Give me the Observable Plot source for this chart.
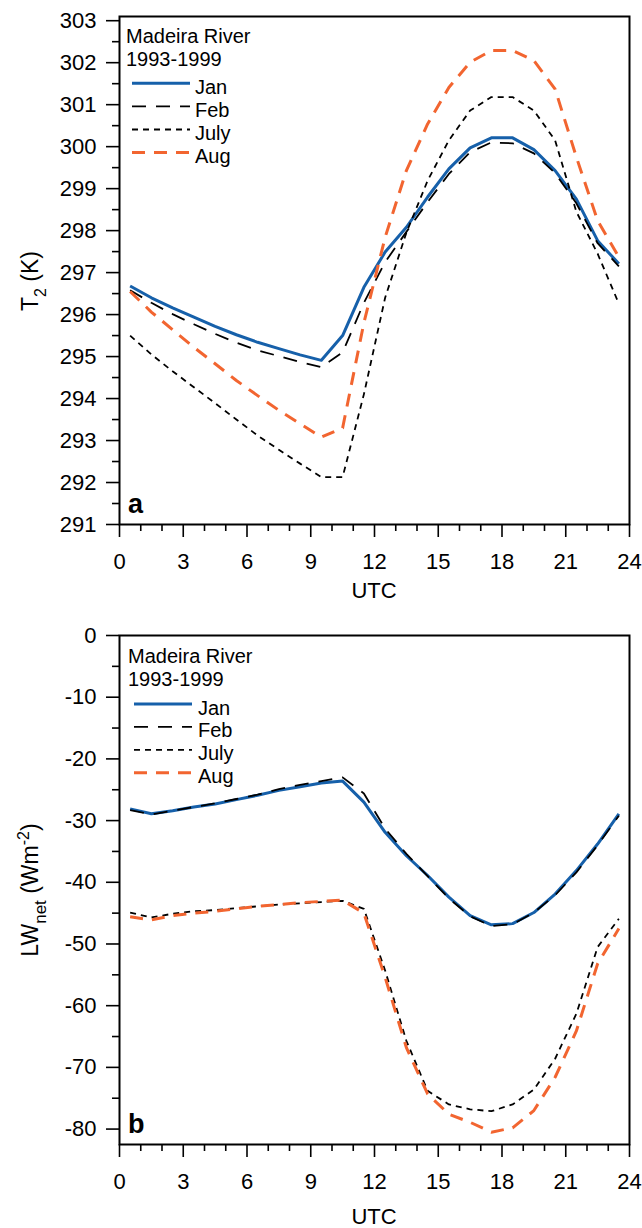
<!DOCTYPE html>
<html><head><meta charset="utf-8">
<script src="https://cdn.jsdelivr.net/npm/d3@7"></script>
<script src="https://cdn.jsdelivr.net/npm/@observablehq/plot@0.6"></script>
<style>
html,body{margin:0;padding:0;background:#fff;}
#chart svg{display:block;}
</style></head><body><div id="chart"></div>
<script>
// ---- data ----
const hours = [0.5,1.5,2.5,3.5,4.5,5.5,6.5,7.5,8.5,9.5,10.5,11.5,12.5,13.5,14.5,15.5,16.5,17.5,18.5,19.5,20.5,21.5,22.5,23.5];
const seriesNames = ["Jan","Feb","July","Aug"];

const t2Jan  = [296.68,296.40,296.16,295.94,295.72,295.52,295.34,295.19,295.04,294.91,295.50,296.65,297.49,298.08,298.80,299.47,299.97,300.21,300.21,299.93,299.43,298.75,297.76,297.21];
const t2Feb  = [296.58,296.28,296.01,295.77,295.54,295.33,295.15,295.01,294.87,294.75,295.10,296.28,297.25,297.97,298.68,299.35,299.87,300.10,300.08,299.84,299.37,298.65,297.70,297.15];
const t2July = [295.50,295.05,294.65,294.27,293.89,293.50,293.12,292.78,292.45,292.13,292.13,294.10,296.40,297.95,299.19,300.15,300.86,301.18,301.18,300.86,300.15,298.45,297.45,296.26];
const t2Aug  = [296.55,296.06,295.64,295.22,294.83,294.43,294.07,293.72,293.40,293.08,293.30,295.80,297.84,299.43,300.54,301.41,302.01,302.29,302.29,302.05,301.37,299.75,298.24,297.37];

const lwJan  = [-28.1,-28.9,-28.4,-27.8,-27.3,-26.6,-25.9,-25.1,-24.5,-23.9,-23.6,-27.0,-31.9,-35.7,-38.9,-42.4,-45.4,-46.9,-46.7,-44.9,-41.9,-38.1,-33.8,-28.9];
const lwFeb  = [-28.3,-29.0,-28.4,-27.8,-27.2,-26.5,-25.8,-24.9,-24.2,-23.6,-23.0,-25.6,-31.3,-35.4,-39.0,-42.6,-45.5,-47.1,-46.8,-44.9,-42.1,-38.4,-34.0,-29.2];
const lwJuly = [-44.9,-45.7,-45.1,-44.7,-44.5,-44.2,-43.9,-43.6,-43.4,-43.2,-43.0,-44.3,-54.3,-65.7,-73.8,-76.0,-76.8,-77.1,-76.0,-73.6,-68.6,-61.3,-50.5,-45.9];
const lwAug  = [-45.6,-46.1,-45.4,-45.0,-44.7,-44.3,-43.9,-43.6,-43.3,-43.1,-42.9,-45.0,-55.4,-66.8,-74.3,-77.6,-78.9,-80.5,-79.8,-77.0,-71.6,-64.1,-53.2,-47.5];

const xMajor = [0,3,6,9,12,15,18,21,24];
const xMinor = [1,2,4,5,7,8,10,11,13,14,16,17,19,20,22,23];
const t2Major = [291,292,293,294,295,296,297,298,299,300,301,302,303];
const t2Minor = [291.5,292.5,293.5,294.5,295.5,296.5,297.5,298.5,299.5,300.5,301.5,302.5];
const lwMajor = [-80,-70,-60,-50,-40,-30,-20,-10,0];
const lwMinor = [-75,-65,-55,-45,-35,-25,-15,-5];

const legendTitle = ["Madeira River","1993-1999"];
const xLabel = "UTC";

// ---- styles ----
const FONT = "'Liberation Sans', Arial, Helvetica, sans-serif";
const style = {
  Jan:  {stroke:"#1660aa", strokeWidth:3,   dash:null},
  Feb:  {stroke:"#000000", strokeWidth:1.8, dash:"14,10"},
  July: {stroke:"#000000", strokeWidth:1.8, dash:"6,5"},
  Aug:  {stroke:"#f26530", strokeWidth:3,   dash:"13,9"}
};

function panel(cfg) {
  const rows = (vals) => hours.map((h, i) => ({h, v: vals[i]}));
  const marks = [
    Plot.axisY(cfg.minorY, {tickSize:7, strokeWidth:1.6, tickFormat: () => "", label:null}),
    Plot.axisY(cfg.majorY, {tickSize:13, tickPadding:10, strokeWidth:1.6, fontSize:22, tickFormat: d => String(d), label:null}),
    Plot.axisX(xMinor, {tickSize:7, strokeWidth:1.6, tickFormat: () => "", label:null}),
    Plot.axisX(xMajor, {tickSize:13, tickPadding:16, strokeWidth:1.6, fontSize:22, tickFormat: d => String(d), label:null}),
    ...seriesNames.map(name => Plot.line(rows(cfg.series[name]), {
      x:"h", y:"v", stroke: style[name].stroke, strokeWidth: style[name].strokeWidth,
      strokeDasharray: style[name].dash, strokeLinejoin:"round", strokeLinecap:"butt"
    })),
    Plot.frame({stroke:"#000", strokeWidth:2})
  ];
  const svg = Plot.plot({
    width: 642, height: 614,
    marginLeft: 119, marginRight: 13, marginTop: cfg.marginTop, marginBottom: cfg.marginBottom,
    x: {domain:[0,24]},
    y: {domain: cfg.yDomain},
    style: {fontFamily: FONT, fontSize: "22px", background:"#fff", color:"#000"},
    marks
  });
  const s = d3.select(svg);
  // legend
  const g = s.append("g").attr("font-family", FONT).attr("font-size", 20).attr("fill", "#000")
    .attr("text-anchor", "start");
  g.append("text").attr("x", cfg.leg.tx).attr("y", cfg.leg.ty1).text(legendTitle[0]);
  g.append("text").attr("x", cfg.leg.tx).attr("y", cfg.leg.ty2).text(legendTitle[1]);
  seriesNames.forEach((name, i) => {
    const ly = cfg.leg.ly0 + i * cfg.leg.dy;
    g.append("line").attr("x1", cfg.leg.lx1).attr("x2", cfg.leg.lx2).attr("y1", ly).attr("y2", ly)
      .attr("stroke", style[name].stroke).attr("stroke-width", style[name].strokeWidth)
      .attr("stroke-dasharray", style[name].dash);
    g.append("text").attr("x", cfg.leg.textX).attr("y", ly + 10.5).text(name);
  });
  // panel letter
  s.append("text").attr("x", 128).attr("y", cfg.letterY).attr("font-family", FONT)
    .attr("text-anchor", "start").attr("font-size", 27).attr("font-weight", "bold").text(cfg.letter);
  // x label
  s.append("text").attr("x", 374).attr("y", cfg.xLabelY).attr("text-anchor", "middle")
    .attr("font-family", FONT).attr("font-size", 22).text(xLabel);
  // y label with sub/superscripts
  const yl = s.append("text").attr("transform", `translate(38,${cfg.yLabelY}) rotate(-90)`)
    .attr("text-anchor", "middle").attr("font-family", FONT).attr("font-size", 23);
  cfg.yLabel.forEach(part => {
    const t = yl.append("tspan").text(part.t);
    if (part.dy) t.attr("dy", part.dy);
    if (part.fs) t.attr("font-size", part.fs);
  });
  return svg;
}

const root = document.getElementById("chart");
root.appendChild(panel({
  series: {Jan:t2Jan, Feb:t2Feb, July:t2July, Aug:t2Aug},
  yDomain: [291, 303.1], majorY: t2Major, minorY: t2Minor,
  marginTop: 16, marginBottom: 90,
  leg: {tx:126, ty1:43, ty2:66, lx1:132, lx2:190, textX:195, ly0:83.3, dy:23.1},
  letter: "a", letterY: 513, xLabelY: 598, yLabelY: 281,
  yLabel: [{t:"T"}, {t:"2", fs:16, dy:8}, {t:" (K)", dy:-8}]
}));
root.appendChild(panel({
  series: {Jan:lwJan, Feb:lwFeb, July:lwJuly, Aug:lwAug},
  yDomain: [-82.5, 0], majorY: lwMajor, minorY: lwMinor,
  marginTop: 21, marginBottom: 84,
  leg: {tx:128, ty1:49, ty2:72, lx1:134, lx2:192, textX:198, ly0:90, dy:22.9},
  letter: "b", letterY: 519, xLabelY: 610, yLabelY: 276,
  yLabel: [{t:"LW"}, {t:"net", fs:17, dy:8}, {t:" (Wm", dy:-8}, {t:"-2", fs:16, dy:-9}, {t:")", dy:9}]
}));
</script></body></html>
